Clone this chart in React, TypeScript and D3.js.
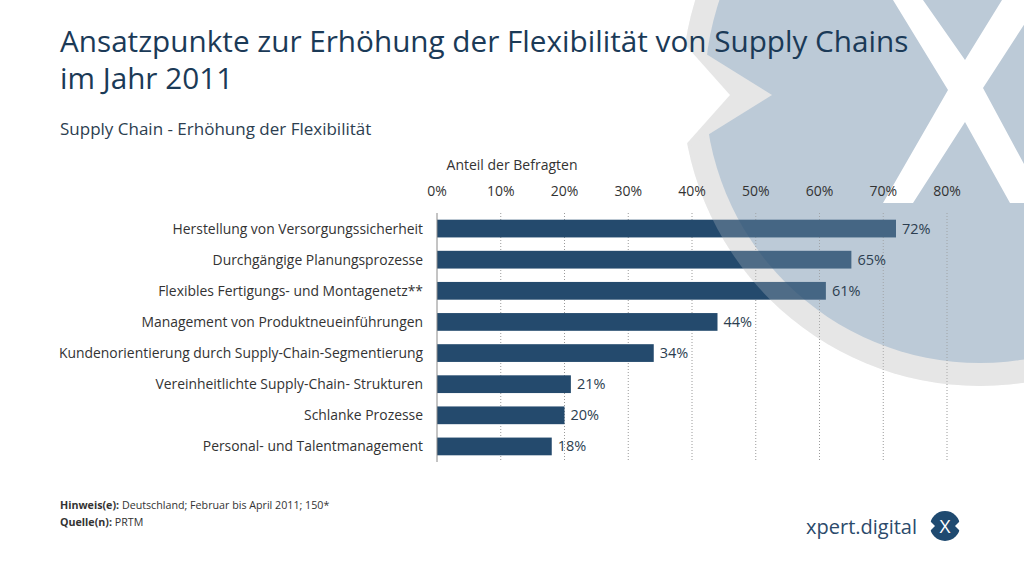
import React from "react";
import * as d3 from "d3";

const categories = [
  "Herstellung von Versorgungssicherheit",
  "Durchgängige Planungsprozesse",
  "Flexibles Fertigungs- und Montagenetz**",
  "Management von Produktneueinführungen",
  "Kundenorientierung durch Supply-Chain-Segmentierung",
  "Vereinheitlichte Supply-Chain- Strukturen",
  "Schlanke Prozesse",
  "Personal- und Talentmanagement",
];
const values = [72, 65, 61, 44, 34, 21, 20, 18];
const tickValues = [0, 10, 20, 30, 40, 50, 60, 70, 80];

const titleLines = [
  "Ansatzpunkte zur Erhöhung der Flexibilität von Supply Chains",
  "im Jahr 2011",
];
const subtitle = "Supply Chain - Erhöhung der Flexibilität";
const axisTitle = "Anteil der Befragten";
const noteLabel = "Hinweis(e):";
const noteText = " Deutschland; Februar bis April 2011; 150*";
const sourceLabel = "Quelle(n):";
const sourceText = " PRTM";
const brand = "xpert.digital";

const FONT = "'Open Sans', 'Noto Sans', sans-serif";
const BAR = "#244a6d";

function Background({ opacity }: { opacity: number }) {
  const cx = 980, cy = 88;
  return (
    <g opacity={opacity}>
      <circle cx={cx} cy={cy} r={298} fill="#e6e6e6" />
      <circle cx={cx} cy={cy} r={275} fill="#bccad7" />
      <polygon points="690,44 772,95 690,146" fill="#e6e6e6" />
      <polygon points="665,22 730,95 665,168" fill="#ffffff" />
      <polygon
        points="893,0 923,0 965,60 1002,0 1040,0 983,88 1045,203 1010,203 965,122 913,203 883,203 948,90"
        fill="#ffffff"
      />
    </g>
  );
}

export default function App() {
  const x = d3.scaleLinear().domain([0, 80]).range([437, 947]);
  const y = d3
    .scaleBand<string>()
    .domain(categories)
    .range([213, 462])
    .paddingInner(0.43)
    .paddingOuter(0.215);
  const [y0, y1] = y.range();

  return (
    <svg
      width={1024}
      height={577}
      style={{ position: "absolute", left: 0, top: 0, background: "#fff" }}
      fontFamily={FONT}
    >
      <rect x={0} y={0} width={1024} height={577} fill="#fff" />
      <Background opacity={1} />

      {/* gridlines */}
      {tickValues.slice(1).map((t) => (
        <line
          key={t}
          x1={x(t)}
          x2={x(t)}
          y1={y0}
          y2={y1}
          stroke="#9a9a9a"
          strokeWidth={1}
          strokeDasharray="1,2"
        />
      ))}

      {/* bars */}
      {categories.map((c, i) => (
        <rect
          key={c}
          x={x(0)}
          y={y(c)}
          width={x(values[i]) - x(0)}
          height={y.bandwidth()}
          fill={BAR}
        />
      ))}

      <Background opacity={0.22} />

      {/* axis line */}
      <line x1={x(0)} x2={x(0)} y1={y0} y2={y1} stroke="#8a8a8a" strokeWidth={1} />

      {/* title */}
      {titleLines.map((t, i) => (
        <text key={i} x={60} y={52 + i * 37} fontSize={29.7} fill="#1b3a57">
          {t}
        </text>
      ))}
      <text x={60} y={135} fontSize={17} fill="#2c3e50">
        {subtitle}
      </text>

      {/* axis title & ticks */}
      <text x={512} y={170} fontSize={14} fill="#333" textAnchor="middle">
        {axisTitle}
      </text>
      {tickValues.map((t) => (
        <text key={t} x={x(t)} y={196} fontSize={14} fill="#333" textAnchor="middle">
          {t + "%"}
        </text>
      ))}

      {/* category labels */}
      {categories.map((c) => (
        <text
          key={c}
          x={423}
          y={(y(c) as number) + y.bandwidth() / 2 + 5}
          fontSize={13.9}
          fill="#333"
          textAnchor="end"
        >
          {c}
        </text>
      ))}

      {/* value labels */}
      {categories.map((c, i) => (
        <text
          key={c}
          x={x(values[i]) + 6}
          y={(y(c) as number) + y.bandwidth() / 2 + 5}
          fontSize={14.5}
          fill="#2c3e50"
        >
          {values[i] + "%"}
        </text>
      ))}

      {/* footer */}
      <text x={60} y={509} fontSize={10.7} fill="#333">
        <tspan fontWeight="bold">{noteLabel}</tspan>
        <tspan>{noteText}</tspan>
      </text>
      <text x={60} y={526} fontSize={10.7} fill="#333">
        <tspan fontWeight="bold">{sourceLabel}</tspan>
        <tspan>{sourceText}</tspan>
      </text>

      {/* brand */}
      <text x={917} y={534} fontSize={20} fill="#2b4a6b" textAnchor="end">
        {brand}
      </text>
      <g>
        <circle cx={945} cy={526} r={15} fill="#1f4a70" />
        <polygon points="929,520 935,526 929,532" fill="#fff" />
        <polygon points="961,520 955,526 961,532" fill="#fff" />
        <text x={945} y={533} fontSize={19} fill="#fff" textAnchor="middle">
          X
        </text>
      </g>
    </svg>
  );
}
